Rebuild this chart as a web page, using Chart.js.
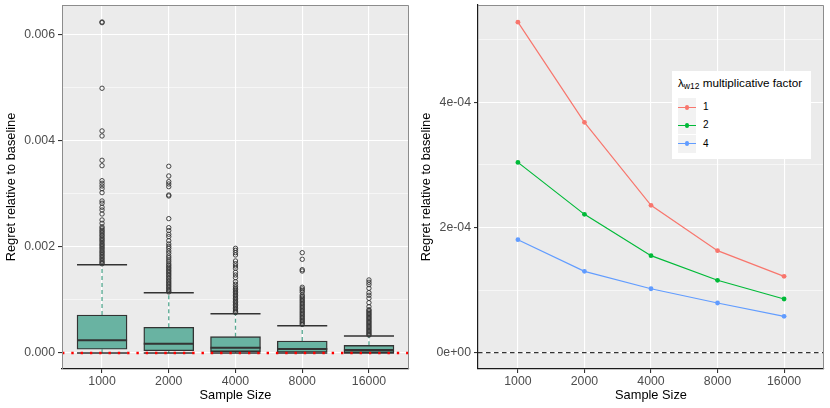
<!DOCTYPE html>
<html lang="en">

<head>
    <meta charset="UTF-8">
    <script src="https://cdn.jsdelivr.net/npm/chart.js"></script>
    <style>
        html,
        body {
            margin: 0;
            padding: 0;
            background: #fff;
        }

        body {
            font-family: "Liberation Sans", Arial, sans-serif;
            width: 830px;
            height: 408px;
            position: relative;
            overflow: hidden;
        }

        .panel {
            position: absolute;
            top: 0;
            width: 415px;
            height: 408px;
        }

        #leftPanel { left: 0; }
        #rightPanel { left: 415px; }

        .legend {
            position: absolute;
            left: 672px;
            top: 71px;
            width: 139px;
            height: 88px;
            background: #fff;
            color: #000;
        }

        .legend .title {
            position: absolute;
            left: 6px;
            top: 5px;
            font-size: 11.7px;
            line-height: 14px;
            white-space: nowrap;
        }

        .legend .title sub {
            font-size: 8.5px;
            vertical-align: -2px;
            line-height: 0;
        }

        .legend .item {
            position: absolute;
            left: 6px;
            height: 18px;
            width: 130px;
        }

        .legend .key {
            position: absolute;
            left: 0;
            top: 0;
            width: 18px;
            height: 18px;
            background: #f2f2f2;
        }

        .legend .key .ln {
            position: absolute;
            left: 0;
            top: 8.4px;
            width: 18px;
            height: 1.2px;
        }

        .legend .key .dot {
            position: absolute;
            left: 6.6px;
            top: 6.6px;
            width: 4.8px;
            height: 4.8px;
            border-radius: 50%;
        }

        .legend .lab {
            position: absolute;
            left: 25px;
            top: 0;
            line-height: 18px;
            font-size: 10px;
        }
    </style>
</head>

<body>
    <div class="panel" id="leftPanel"><canvas id="boxChart" width="415" height="408"></canvas></div>
    <div class="panel" id="rightPanel"><canvas id="lineChart" width="415" height="408"></canvas></div>
    <div class="legend" id="legend"></div>

    <script>
        // ---- data ----
        const categories = ['1000', '2000', '4000', '8000', '16000'];

        // boxplot summary per sample size
        const whiskerLow = [0, 0, 0, 0, 0];
        const boxQ1 = [0.00007, 0.000043, 0.000025, 0.000015, 0.000008];
        const boxMedian = [0.00024, 0.000175, 0.0001, 0.000075, 0.000057];
        const boxQ3 = [0.000717, 0.000485, 0.000308, 0.000226, 0.000145];
        const whiskerHigh = [0.001666, 0.001138, 0.000742, 0.000516, 0.00032];

        const outliers1000 = [0.006246, 0.006233, 0.004995, 0.00419, 0.004095, 0.003636, 0.003534,
            0.003251, 0.003202, 0.003151, 0.0031, 0.003025, 0.002868, 0.002825, 0.00275, 0.002698,
            0.002623, 0.00251, 0.002447, 0.002381, 0.002352, 0.002318, 0.00229, 0.002261, 0.002229,
            0.002204, 0.00217, 0.002142, 0.002115, 0.002083, 0.002051, 0.002027, 0.001995, 0.001968,
            0.001934, 0.001906, 0.001879, 0.001848, 0.001821, 0.00179, 0.001762, 0.001731, 0.001705,
            0.001682];
        const outliers2000 = [0.003523, 0.00334, 0.003233, 0.003189, 0.003138, 0.002981, 0.002963,
            0.002535, 0.002365, 0.00231, 0.00224, 0.002195, 0.002119, 0.002057, 0.002012, 0.001975,
            0.001925, 0.001881, 0.00183, 0.001795, 0.001755, 0.00172, 0.00168, 0.001652, 0.001621,
            0.001594, 0.001563, 0.001537, 0.001508, 0.001479, 0.001452, 0.001421, 0.001396, 0.001364,
            0.001338, 0.001309, 0.001282, 0.001254, 0.001226, 0.001197, 0.001171, 0.001152];
        const outliers4000 = [0.001975, 0.001938, 0.001893, 0.00185, 0.001736, 0.001685, 0.001642,
            0.001598, 0.001523, 0.001472, 0.001421, 0.001345, 0.001296, 0.001251, 0.001224, 0.001196,
            0.001168, 0.001141, 0.001112, 0.001086, 0.001057, 0.001031, 0.001003, 0.000975, 0.000948,
            0.00092, 0.000893, 0.000866, 0.000838, 0.000811, 0.000784, 0.000762];
        const outliers8000 = [0.001893, 0.001768, 0.001572, 0.001547, 0.00124, 0.001208, 0.001178,
            0.001145, 0.001094, 0.001068, 0.001041, 0.001014, 0.000987, 0.000961, 0.000934, 0.000907,
            0.000881, 0.000854, 0.000828, 0.000801, 0.000774, 0.000748, 0.000721, 0.000695, 0.000668,
            0.000642, 0.000615, 0.000589, 0.000563, 0.000538];
        const outliers16000 = [0.001378, 0.001334, 0.001289, 0.001221, 0.001138, 0.001089, 0.001032,
            0.000949, 0.000874, 0.000817, 0.000797, 0.000771, 0.000746, 0.000721, 0.000697, 0.000672,
            0.000648, 0.000623, 0.000598, 0.000574, 0.000549, 0.000525, 0.000501, 0.000476, 0.000452,
            0.000428, 0.000404, 0.00038, 0.000357, 0.000338];
        const outliers = [outliers1000, outliers2000, outliers4000, outliers8000, outliers16000];

        // mean regret per lambda factor
        const factorLabels = ['1', '2', '4'];
        const regretFactor1 = [0.000528, 0.000368, 0.0002355, 0.000163, 0.000122];
        const regretFactor2 = [0.000304, 0.000221, 0.000155, 0.0001157, 0.0000858];
        const regretFactor4 = [0.0001805, 0.00013, 0.0001022, 0.0000794, 0.0000581];
        const baselineValue = 0;

        const leftMajorTicks = [0, 0.002, 0.004, 0.006];
        const leftTickLabels = ['0.000', '0.002', '0.004', '0.006'];
        const leftMinorTicks = [0.001, 0.003, 0.005];
        const rightMajorTicks = [0, 0.0002, 0.0004];
        const rightTickLabels = ['0e+00', '2e-04', '4e-04'];
        const rightMinorTicks = [0.0001, 0.0003, 0.0005];

        // ---- styling helpers ----
        const FONT = '"Liberation Sans", Arial, sans-serif';
        const BOX_HALF = 0.375; // half box width in category units
        const seriesColors = ['#F8766D', '#00BA38', '#619CFF'];

        const panelPlugin = {
            id: 'panel',
            beforeDraw(chart) {
                const { ctx, chartArea: a } = chart;
                ctx.save();
                ctx.fillStyle = '#ebebeb';
                ctx.fillRect(a.left, a.top, a.right - a.left, a.bottom - a.top);
                ctx.restore();
            },
            afterDraw(chart, args, opts) {
                const { ctx, chartArea: a } = chart;
                ctx.save();
                ctx.strokeStyle = '#8c8c8c';
                ctx.lineWidth = 1;
                ctx.beginPath();
                ctx.moveTo(a.left, a.top + 0.5);
                ctx.lineTo(a.right - 0.5, a.top + 0.5);
                ctx.lineTo(a.right - 0.5, a.bottom);
                if (opts.grayLeft) {
                    ctx.moveTo(a.left + 0.5, a.top);
                    ctx.lineTo(a.left + 0.5, a.bottom);
                }
                ctx.stroke();
                ctx.restore();
            }
        };

        function xScale() {
            return {
                type: 'linear',
                min: 0.4,
                max: 5.6,
                offset: false,
                afterBuildTicks: s => { s.ticks = categories.map((c, i) => ({ value: i + 1 })); },
                afterFit: s => {
                    s.height = 39;
                    s.paddingLeft = 0;
                    s.paddingRight = 0;
                },
                ticks: {
                    autoSkip: false,
                    maxRotation: 0,
                    padding: 1,
                    color: '#4d4d4d',
                    font: { family: FONT, size: 12.3 },
                    callback: v => categories[v - 1]
                },
                grid: { color: '#fff', lineWidth: 1.1, tickColor: '#333', tickLength: 4, offset: false },
                border: { display: true, color: '#1a1a1a', width: 1.2 },
                title: {
                    display: true,
                    text: 'Sample Size',
                    color: '#000',
                    font: { family: FONT, size: 12.8 },
                    padding: { top: 0, bottom: 5 }
                }
            };
        }

        function yScale(min, max, majors, labels, minors, axisLine, yWidth) {
            const isMajor = v => majors.indexOf(v) !== -1;
            return {
                type: 'linear',
                min: min,
                max: max,
                afterBuildTicks: s => {
                    s.ticks = majors.concat(minors).sort((a, b) => a - b).map(v => ({ value: v }));
                },
                afterFit: s => {
                    s.width = yWidth;
                    s.paddingTop = 0;
                    s.paddingBottom = 0;
                },
                ticks: {
                    autoSkip: false,
                    padding: 3,
                    color: '#4d4d4d',
                    font: { family: FONT, size: 12.3 },
                    callback: v => isMajor(v) ? labels[majors.indexOf(v)] : ''
                },
                grid: {
                    color: '#fff',
                    lineWidth: c => isMajor(c.tick.value) ? 1.1 : 0.55,
                    tickColor: c => isMajor(c.tick.value) ? '#333' : 'rgba(0,0,0,0)',
                    tickLength: 4
                },
                border: { display: axisLine, color: '#1a1a1a', width: 1.2 },
                title: {
                    display: true,
                    text: 'Regret relative to baseline',
                    color: '#000',
                    font: { family: FONT, size: 12.8 },
                    padding: { top: 4, bottom: 0 }
                }
            };
        }

        // ---- left: boxplot ----
        const boxData = categories.map((c, i) => ({ x: i + 1, y: [boxQ1[i], boxQ3[i]] }));
        const whiskerData = [];
        const capData = [];
        const medianData = [];
        categories.forEach((c, i) => {
            const x = i + 1;
            whiskerData.push({ x, y: boxQ3[i] }, { x, y: whiskerHigh[i] }, { x, y: null },
                { x, y: boxQ1[i] }, { x, y: whiskerLow[i] }, { x, y: null });
            capData.push({ x: x - BOX_HALF, y: whiskerHigh[i] }, { x: x + BOX_HALF, y: whiskerHigh[i] }, { x, y: null },
                { x: x - BOX_HALF, y: whiskerLow[i] }, { x: x + BOX_HALF, y: whiskerLow[i] }, { x, y: null });
            medianData.push({ x: x - BOX_HALF, y: boxMedian[i] }, { x: x + BOX_HALF, y: boxMedian[i] }, { x, y: null });
        });
        const outlierData = [];
        outliers.forEach((list, i) => list.forEach(v => outlierData.push({ x: i + 1, y: v })));

        new Chart(document.getElementById('boxChart'), {
            type: 'scatter',
            data: {
                datasets: [
                    {
                        type: 'line', data: [{ x: 0.4, y: baselineValue }, { x: 5.6, y: baselineValue }],
                        borderColor: '#ff0000', borderWidth: 2.6, borderDash: [2.4, 6.9],
                        pointRadius: 0, order: 1
                    },
                    {
                        type: 'scatter', data: outlierData,
                        pointRadius: 2.2, borderWidth: 0.9, borderColor: '#333', backgroundColor: 'rgba(0,0,0,0)',
                        order: 2
                    },
                    {
                        type: 'line', data: capData, borderColor: '#333', borderWidth: 1.5,
                        pointRadius: 0, spanGaps: false, order: 3
                    },
                    {
                        type: 'line', data: medianData, borderColor: '#333', borderWidth: 2,
                        pointRadius: 0, spanGaps: false, order: 4
                    },
                    {
                        type: 'bar', data: boxData, backgroundColor: '#69b3a2', borderColor: '#333',
                        borderWidth: 1.4, borderSkipped: false, barThickness: 50, order: 5
                    },
                    {
                        type: 'line', data: whiskerData, borderColor: '#54a890', borderWidth: 1.3,
                        borderDash: [4, 3], pointRadius: 0, spanGaps: false, order: 6
                    }
                ]
            },
            options: {
                responsive: false,
                animation: false,
                layout: { padding: { top: 5, right: 6, left: 0, bottom: 0 } },
                plugins: { legend: { display: false }, tooltip: { enabled: false }, panel: { grayLeft: true } },
                scales: {
                    x: xScale(),
                    y: yScale(-0.000302, 0.006566, leftMajorTicks, leftTickLabels, leftMinorTicks, false, 62)
                }
            },
            plugins: [panelPlugin]
        });

        // ---- right: lines ----
        const toPoints = arr => arr.map((v, i) => ({ x: i + 1, y: v }));
        const lineSeries = [regretFactor1, regretFactor2, regretFactor4].map((arr, k) => ({
            type: 'line',
            label: factorLabels[k],
            data: toPoints(arr),
            borderColor: seriesColors[k],
            backgroundColor: seriesColors[k],
            borderWidth: 1.2,
            pointRadius: 2.4,
            pointBorderWidth: 0,
            order: 3 - k
        }));

        const lineChart = new Chart(document.getElementById('lineChart'), {
            type: 'line',
            data: {
                datasets: lineSeries.concat([{
                    type: 'line', label: '', data: [{ x: 0.4, y: baselineValue }, { x: 5.6, y: baselineValue }],
                    borderColor: '#333', borderWidth: 1.2, borderDash: [4.5, 3.5], pointRadius: 0, order: 10
                }])
            },
            options: {
                responsive: false,
                animation: false,
                layout: { padding: { top: 5, right: 6, left: 0, bottom: 0 } },
                plugins: { legend: { display: false }, tooltip: { enabled: false }, panel: { grayLeft: false } },
                scales: {
                    x: xScale(),
                    y: yScale(-0.000026, 0.0005554, rightMajorTicks, rightTickLabels, rightMinorTicks, true, 63)
                }
            },
            plugins: [panelPlugin]
        });

        // ---- html legend built from the line datasets ----
        const legend = document.getElementById('legend');
        legend.innerHTML = '<div class="title">&lambda;<sub>w12</sub> multiplicative factor</div>';
        lineChart.data.datasets.filter(d => d.label).forEach((d, k) => {
            const item = document.createElement('div');
            item.className = 'item';
            item.style.top = (27.3 + k * 18.1) + 'px';
            item.innerHTML = '<div class="key"><div class="ln" style="background:' + d.borderColor +
                '"></div><div class="dot" style="background:' + d.borderColor + '"></div></div>' +
                '<div class="lab">' + d.label + '</div>';
            legend.appendChild(item);
        });
    </script>
</body>

</html>
